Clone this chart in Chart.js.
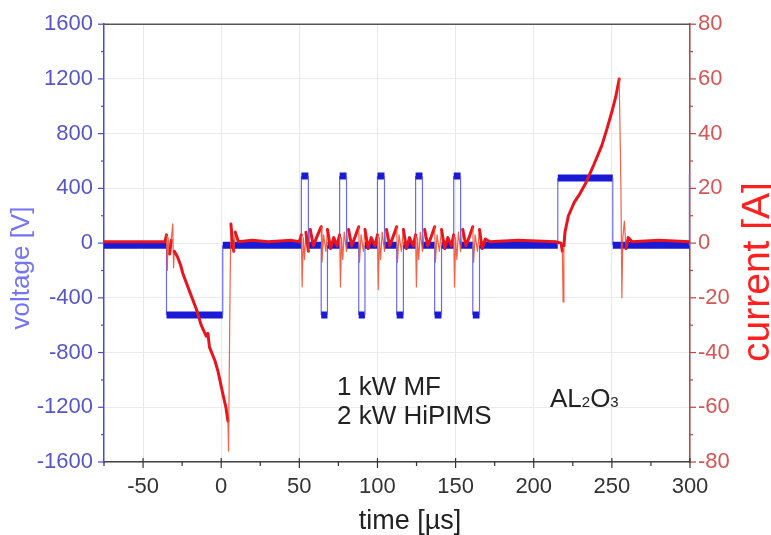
<!DOCTYPE html>
<html><head><meta charset="utf-8">
<script src="https://cdn.jsdelivr.net/npm/chart.js@4.4.1/dist/chart.umd.min.js"></script>
<style>html,body{margin:0;padding:0;background:#fff;overflow:hidden}canvas{display:block}</style>
</head><body>
<canvas id="c" width="771" height="535"></canvas>
<script>
// ---- tick labels ----
const timeTicks = [-50, 0, 50, 100, 150, 200, 250, 300];
const voltageTicks = [-1600, -1200, -800, -400, 0, 400, 800, 1200, 1600];
const currentTicks = [-80, -60, -40, -20, 0, 20, 40, 60, 80];

// ---- voltage series (V) ----
const voltageTime = [-75, -35, -35, 1, 1, 51.3, 51.3, 55.8, 55.8, 64, 64, 68, 68,
  75.8, 75.8, 80.2, 80.2, 88, 88, 92, 92, 100, 100, 104.5, 104.5, 112.3, 112.3, 116.6, 116.6,
  124.4, 124.4, 128.8, 128.8, 136.6, 136.6, 141, 141, 148.8, 148.8, 153.2, 153.2, 161, 161, 165.3, 165.3,
  215.4, 215.4, 250.6, 250.6, 299.6, 299.6, 300];
const voltage = [-15, -15, -525, -525, -15, -15, 490, 490, -15, -15, -525, -525, -15,
  -15, 490, 490, -15, -15, -525, -525, -15, -15, 490, 490, -15, -15, -525, -525, -15,
  -15, 490, 490, -15, -15, -525, -525, -15, -15, 490, 490, -15, -15, -525, -525, -15,
  -15, 475, 475, -15, -15, 500, 500];

// ---- current series (A) ----
const currentTime = [-75, -60, -45, -36, -35, -34.5, -34, -33, -32, -31, -30.5, -30, -28, -26, -24.6,
  -20, -16, -12.8, -9.6, -8.5, -7.5, -4, -2, 1, 3, 4.3, 4.7, 5.6, 6.2, 7, 8, 9, 11, 20, 30, 45, 50,
  51.3, 51.8, 52.5, 53.3, 54.2, 55.8, 57, 59, 61, 64, 64.5, 65.5, 67, 68, 70, 72, 74,
  75.8, 76.3, 77, 77.8, 78.7, 80.2, 81.5, 83.5, 85.5, 88, 88.5, 89.5, 91, 92, 94, 96, 98.5,
  100, 100.5, 101.2, 102, 103, 104.5, 105.8, 107.8, 109.8, 112.3, 112.8, 113.8, 115.3, 116.6, 118.5, 120.5, 123,
  124.4, 124.9, 125.6, 126.4, 127.4, 128.8, 130.2, 132.2, 134.2, 136.6, 137.1, 138.1, 139.6, 141, 143, 145, 147.3,
  148.8, 149.3, 150, 150.8, 151.8, 153.2, 154.6, 156.6, 158.6, 161, 161.5, 162.5, 164, 165.3, 167, 169, 172,
  190, 214, 217.5, 218.3, 218.8, 219.3, 220, 222.2, 226, 229.5, 232.9, 238, 243.6, 247, 250, 252.5, 254.7,
  255.8, 256.4, 257, 258, 259, 260.5, 263, 280, 300];
const current = [0.5, 0.5, 0.5, 0.5, 3, -10, 2, -4, 1, 7, -9, -3, -5, -8, -11,
  -18, -24, -30, -34, -33, -38, -43, -47, -55, -60, -65, -76, -20, 7, 2, -3, 4, 0.5, 1, 0.5, 1, 0.5,
  3, -16, 2, -6, 4, -3, 5, -1, 2, 6, -7, 3, -3, 5, -2, 2, -1,
  3, -16, 2, -6, 4, -3, 5, -1, 2, 6, -7, 3, -3, 5, -2, 2, -1,
  3, -17, 2, -6, 4, -3, 5, -1, 2, 6, -7, 3, -3, 5, -2, 2, -1,
  3, -16, 2, -6, 4, -3, 5, -1, 2, 6, -7, 3, -3, 5, -2, 2, -1,
  3, -16, 2, -6, 4, -3, 5, -1, 2, 6, -7, 3, -3, 5, -2, 1.5, 0.5,
  1, 0.5, 0, -3, -21.5, -1, 4, 10, 15, 18, 21.5, 28, 35.7, 42, 48, 53.5, 60,
  20, -20, 2, 8, -2, 2, 0.5, 1, 0.5];

const FONT = "'Liberation Sans', Arial, sans-serif";
const toXY = (xs, ys) => xs.map((x, i) => ({x, y: ys[i]}));

const deco = {
  id: 'deco',
  beforeDraw(chart) {
    const c = chart.ctx; c.save(); c.fillStyle = '#fff'; c.fillRect(0, 0, chart.width, chart.height); c.restore();
  },
  afterDraw(chart) {
    const c = chart.ctx, a = chart.chartArea;
    const sx = chart.scales.x, sy = chart.scales.y, sr = chart.scales.y1;
    const seg = (x1, y1, x2, y2) => { c.beginPath(); c.moveTo(x1, y1); c.lineTo(x2, y2); c.stroke(); };
    const mids = t => t.slice(0, -1).map((v, i) => (v + t[i + 1]) / 2);
    c.save();
    c.strokeStyle = '#555'; c.lineWidth = 1.5; seg(a.left, a.top, a.right, a.top);
    c.strokeStyle = '#333'; c.lineWidth = 1.2;
    timeTicks.forEach(v => { const p = sx.getPixelForValue(v); seg(p, a.bottom - 4, p, a.bottom + 6); });
    [timeTicks[0] - 25].concat(mids(timeTicks)).forEach(v => { const p = sx.getPixelForValue(v); seg(p, a.bottom, p, a.bottom + 4); });
    c.strokeStyle = '#4a4ae0';
    voltageTicks.forEach(v => { const p = sy.getPixelForValue(v); seg(a.left - 6, p, a.left, p); });
    mids(voltageTicks).forEach(v => { const p = sy.getPixelForValue(v); seg(a.left - 3, p, a.left, p); });
    c.strokeStyle = '#b04848';
    currentTicks.forEach(v => { const p = sr.getPixelForValue(v); seg(a.right, p, a.right + 6, p); });
    mids(currentTicks).forEach(v => { const p = sr.getPixelForValue(v); seg(a.right, p, a.right + 3, p); });
    c.textBaseline = 'alphabetic'; c.textAlign = 'center';
    c.save(); c.translate(29, 268); c.rotate(-Math.PI / 2);
    c.fillStyle = '#7474f4'; c.font = '26px ' + FONT; c.fillText('voltage [V]', 0, 0); c.restore();
    c.fillStyle = '#fff'; c.fillRect(737, 165, 34, 262);
    c.save(); c.translate(769, 272); c.rotate(-Math.PI / 2);
    c.fillStyle = '#ff2020'; c.font = '39px ' + FONT; c.fillText('current [A]', 0, 0); c.restore();
    c.fillStyle = '#222'; c.font = '27px ' + FONT; c.fillText('time [µs]', 410, 529);
    c.textAlign = 'left'; c.fillStyle = '#222'; c.font = '26px ' + FONT;
    c.fillText('1 kW MF', 337, 395);
    c.fillText('2 kW HiPIMS', 337, 424);
    let x = 550; const big = '26px ' + FONT, small = '15px ' + FONT;
    [['AL', big], ['2', small], ['O', big], ['3', small]].forEach(([t, f]) => {
      c.font = f; c.fillText(t, x, 407); x += c.measureText(t).width;
    });
    c.restore();
  }
};

const thinV = ctx => Math.abs(ctx.p1.x - ctx.p0.x) < 2.5;
const thinI = ctx => Math.abs(ctx.p1.x - ctx.p0.x) < 2.5 && Math.abs(ctx.p1.y - ctx.p0.y) > 15;
const plain = v => String(v);

new Chart(document.getElementById('c'), {
  type: 'line',
  data: {
    datasets: [
      {
        label: 'current', yAxisID: 'y1', order: 0,
        data: toXY(currentTime, current),
        borderColor: '#e8141e', borderWidth: 3, pointRadius: 0, tension: 0,
        borderJoinStyle: 'round', borderCapStyle: 'round',
        segment: {
          borderWidth: ctx => thinI(ctx) ? 1.2 : 3,
          borderColor: ctx => thinI(ctx) ? 'rgba(240,70,40,0.85)' : '#e8141e'
        }
      },
      {
        label: 'voltage', yAxisID: 'y', order: 1,
        data: toXY(voltageTime, voltage),
        borderColor: '#1a1ad6', borderWidth: 7, pointRadius: 0, tension: 0,
        borderJoinStyle: 'miter', borderCapStyle: 'butt',
        segment: {
          borderWidth: ctx => thinV(ctx) ? 1.2 : 7,
          borderColor: ctx => thinV(ctx) ? '#6a6ae6' : '#1a1ad6'
        }
      }
    ]
  },
  options: {
    responsive: false, animation: false, devicePixelRatio: 1,
    layout: {padding: {top: 22, left: 0, right: 0, bottom: 0}},
    plugins: {legend: {display: false}, tooltip: {enabled: false}},
    scales: {
      x: {
        type: 'linear', min: -75, max: 300,
        afterBuildTicks: s => { s.ticks = timeTicks.map(v => ({value: v})); },
        afterFit: s => { s.height = 73; },
        grid: {color: '#e9e9e9', drawTicks: false, lineWidth: 1},
        border: {display: true, color: '#444', width: 1.5},
        ticks: {color: '#333', font: {size: 22, family: FONT}, padding: 12, maxRotation: 0, callback: plain}
      },
      y: {
        type: 'linear', position: 'left', min: -1600, max: 1600,
        afterBuildTicks: s => { s.ticks = voltageTicks.map(v => ({value: v})); },
        afterFit: s => { s.width = 104; },
        grid: {color: '#ececec', drawTicks: false, lineWidth: 1},
        border: {display: true, color: '#4848e0', width: 1.5},
        ticks: {color: '#5656c8', font: {size: 22, family: FONT}, padding: 11, callback: plain}
      },
      y1: {
        type: 'linear', position: 'right', min: -80, max: 80,
        afterBuildTicks: s => { s.ticks = currentTicks.map(v => ({value: v})); },
        afterFit: s => { s.width = 81; },
        grid: {drawOnChartArea: false, drawTicks: false},
        border: {display: true, color: '#b04848', width: 1.5},
        ticks: {color: '#d45656', font: {size: 22, family: FONT}, padding: 8, callback: plain}
      }
    }
  },
  plugins: [deco]
});
</script>
</body></html>
